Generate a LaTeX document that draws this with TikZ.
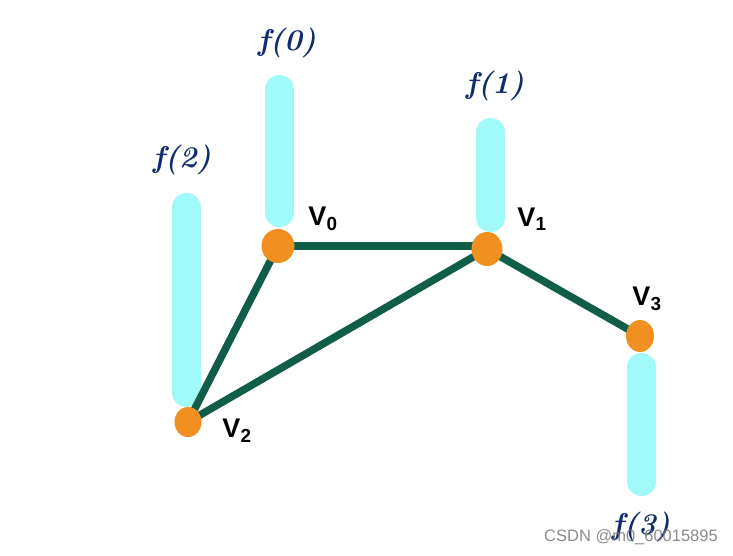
\documentclass[tikz,border=0pt]{standalone}
\usepackage{fontspec}
\setsansfont{Liberation Sans}
\usetikzlibrary{shapes.geometric,backgrounds}
\definecolor{barcyan}{RGB}{160,250,250}
\definecolor{edgegreen}{RGB}{16,94,74}
\definecolor{vorange}{RGB}{240,144,32}
\definecolor{fblue}{RGB}{16,44,108}
\definecolor{wmgray}{RGB}{120,120,120}
\tikzset{
  fbar/.style={line width=29pt, line cap=round, color=barcyan},
  edge/.style={line width=7.5pt, color=edgegreen},
  vert/.style={ellipse, fill=vorange, inner sep=0pt},
  flabel/.style={text=fblue, font=\fontsize{30}{32}\selectfont\bfseries\itshape, inner sep=0pt},
  vlabel/.style={text=black, font=\fontsize{27}{30}\selectfont\sffamily\bfseries, inner sep=0pt},
}
\begin{document}
\begin{tikzpicture}[x=1pt,y=-1pt]
\begin{pgfonlayer}{background}
\fill[white] (0,0) rectangle (733,555);
\coordinate (b0t) at (279.5,89.5);  \coordinate (b0b) at (279.5,212.5);
\coordinate (b1t) at (490.5,132.5); \coordinate (b1b) at (490.5,217.5);
\coordinate (b2t) at (186.5,207.5); \coordinate (b2b) at (186.5,392.5);
\coordinate (b3t) at (641.5,367.5); \coordinate (b3b) at (641.5,481.5);
\draw[fbar] (b0t) -- (b0b);
\draw[fbar] (b1t) -- (b1b);
\draw[fbar] (b2t) -- (b2b);
\draw[fbar] (b3t) -- (b3b);
\end{pgfonlayer}
\useasboundingbox (0,0) rectangle (733,555);
% vertices
\node[vert, minimum width=33pt, minimum height=34pt] (v0) at (278,246) {};
\node[vert, minimum width=31pt, minimum height=34pt] (v1) at (487,249) {};
\node[vert, minimum width=27pt, minimum height=30pt] (v2) at (188,422) {};
\node[vert, minimum width=28pt, minimum height=32pt] (v3) at (640,336) {};
% edges
\begin{pgfonlayer}{background}
\draw[edge] (v0.center) -- (v0.center -| v1.center);
\draw[edge] (v0.center) -- (v2.center);
\draw[edge] (v1.center) -- (v2.center);
\draw[edge] (v1.center) -- (v3.center);
\end{pgfonlayer}
% labels
\node[flabel] (f0) at (287,43) {f(0)};
\node[flabel] (f1) at (495,86) {f(1)};
\node[flabel] (f2) at (182,160) {f(2)};
\node[flabel] (f3) at (641,527) {f(3)};
\node[vlabel] (l0) at (323,219) {V\textsubscript{0}};
\node[vlabel] (l1) at (532,219) {V\textsubscript{1}};
\node[vlabel] (l2) at (237,431) {V\textsubscript{2}};
\node[vlabel] (l3) at (647,299) {V\textsubscript{3}};
\node[text=wmgray, opacity=0.85, font=\fontsize{16.5}{18}\selectfont\sffamily, anchor=east, inner sep=0pt] (wm) at (718,537) {CSDN @m0\_60015895};
\end{tikzpicture}
\end{document}
